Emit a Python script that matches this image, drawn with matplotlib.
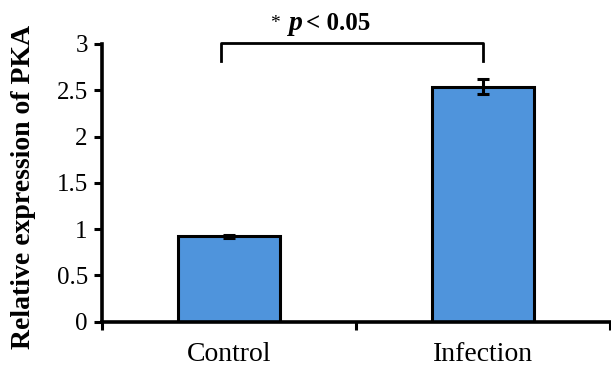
import matplotlib
matplotlib.use("Agg")
import matplotlib.pyplot as plt

categories = ["Control", "Infection"]
values = [0.92, 2.54]
errors = [0.015, 0.08]
yticks = [0, 0.5, 1, 1.5, 2, 2.5, 3]
ytick_labels = ["0", "0.5", "1", "1.5", "2", "2.5", "3"]
ylabel = "Relative expression of PKA"

plt.rcParams['font.family'] = ['Liberation Serif', 'DejaVu Serif']

fig = plt.figure(figsize=(6.11, 3.68), dpi=100)
ax = fig.add_axes([101.7/611, (368-321.5)/368, (610-101.7)/611, (321.5-44)/368])

x = list(range(len(categories)))
ax.bar(x, values, width=0.4, color='#4f94dc', edgecolor='black', linewidth=2.2,
       yerr=errors, error_kw=dict(ecolor='black', elinewidth=2.2, capsize=4, capthick=2.2),
       zorder=2)

ax.set_xlim(-0.5, 1.5)
ax.set_ylim(0, 3)
ax.set_yticks(yticks)
ax.set_yticklabels(ytick_labels, fontsize=18)
ax.set_xticks([-0.5, 0.5, 1.5])
ax.set_xticklabels([])
for xi, c in zip(x, categories):
    ax.text(xi, -0.22, c, ha='center', va='top', fontsize=20, transform=ax.transData)
ax.tick_params(axis='y', direction='out', length=6, width=2.2, pad=4)
ax.tick_params(axis='x', direction='out', length=6, width=2.2)
for s in ['top', 'right']:
    ax.spines[s].set_visible(False)
for s in ['left', 'bottom']:
    ax.spines[s].set_linewidth(2.6)
ax.set_ylabel(ylabel, fontsize=20, fontweight='bold')
ax.yaxis.set_label_coords(-0.13, 0.485)

# significance bracket
bx0, bx1, by, bdrop = -0.03, 1.0, 3.01, 2.82
ax.plot([bx0, bx0, bx1, bx1], [bdrop, by, by, bdrop], color='black', lw=2.0, clip_on=False)
ax.text(0.18, 3.22, "*", fontsize=14, ha='center', va='center')
ax.text(0.235, 3.22, "p", fontsize=20, fontweight='bold', style='italic', ha='left', va='center')
ax.text(0.305, 3.22, "< 0.05", fontsize=18, fontweight='bold', ha='left', va='center')

fig.savefig("out.png", dpi=100)
